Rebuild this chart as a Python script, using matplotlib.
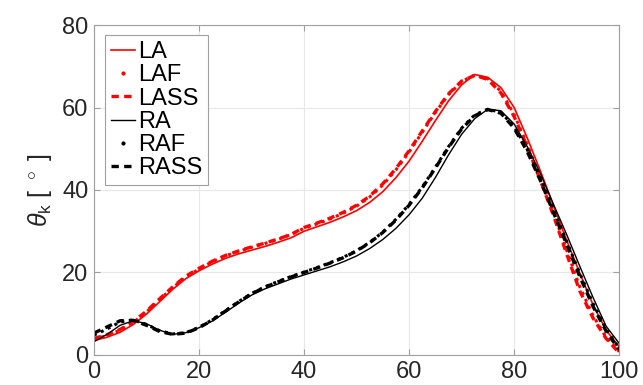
import numpy as np
import matplotlib
matplotlib.use("Agg")
import matplotlib.pyplot as plt
from matplotlib.lines import Line2D

plt.rcParams['font.family'] = ['Liberation Sans', 'DejaVu Sans']
plt.rcParams['mathtext.fontset'] = 'custom'
plt.rcParams['mathtext.rm'] = 'Liberation Sans'
plt.rcParams['mathtext.it'] = 'Liberation Sans:italic'

# gait cycle [%]
x = np.arange(0, 100.1, 2.5)

LA = [3.5, 4.3, 5.5, 7.4, 9.9, 12.9, 15.9, 18.5, 20.4, 22.0, 23.4, 24.5, 25.4, 26.3,
      27.3, 28.4, 30.0, 31.1, 32.2, 33.5, 35.0, 37.0, 39.6, 43.0, 47.0, 51.8, 56.8, 61.6,
      65.5, 68.0, 67.3, 64.8, 60.0, 52.6, 44.6, 36.2, 27.8, 19.8, 12.2, 6.0, 2.0]
LAF = [3.8, 4.7, 6.0, 7.9, 10.4, 13.4, 16.3, 18.9, 20.8, 22.6, 24.0, 25.1, 26.1, 27.0,
       28.0, 29.2, 30.7, 31.8, 33.0, 34.4, 36.1, 38.3, 41.2, 44.9, 49.2, 54.0, 58.8, 63.1,
       66.3, 67.9, 67.0, 63.9, 58.3, 51.0, 42.9, 34.5, 25.4, 16.5, 9.6, 4.3, 0.8]
LASS = [4.0, 4.9, 6.2, 8.1, 10.6, 13.6, 16.5, 19.1, 21.0, 22.7, 24.1, 25.2, 26.2, 27.1,
        28.1, 29.2, 30.9, 32.0, 33.2, 34.6, 36.3, 38.5, 41.5, 45.2, 49.5, 54.3, 59.0, 63.3,
        66.4, 67.8, 66.8, 63.5, 57.8, 50.5, 42.3, 33.8, 24.5, 15.5, 9.0, 4.0, 0.5]
RA = [3.2, 5.0, 7.2, 8.3, 7.6, 6.0, 5.0, 5.4, 6.6, 8.2, 10.3, 12.5, 14.5, 16.0,
      17.2, 18.4, 19.4, 20.4, 21.4, 22.6, 24.0, 25.8, 28.0, 30.7, 34.0, 38.0, 43.0, 48.5,
      53.5, 57.3, 59.6, 59.2, 56.0, 50.5, 44.0, 36.5, 29.2, 21.5, 14.0, 7.0, 2.8]
RAF = [4.8, 6.3, 8.0, 8.5, 7.4, 5.9, 5.1, 5.4, 6.7, 8.5, 10.7, 12.9, 14.9, 16.5,
       17.8, 19.0, 20.1, 21.2, 22.4, 23.7, 25.3, 27.3, 29.8, 32.9, 36.5, 40.7, 45.5, 50.5,
       55.0, 58.2, 59.6, 58.8, 55.4, 49.8, 42.9, 35.2, 27.5, 19.8, 12.5, 6.3, 1.6]
RASS = [5.3, 6.8, 8.3, 8.4, 7.2, 5.7, 5.0, 5.3, 6.6, 8.4, 10.6, 12.8, 14.8, 16.4,
        17.7, 18.9, 20.0, 21.1, 22.3, 23.6, 25.2, 27.2, 29.7, 32.7, 36.3, 40.5, 45.3, 50.3,
        54.8, 58.0, 59.5, 58.6, 55.0, 49.3, 42.3, 34.5, 26.8, 19.0, 11.8, 5.8, 1.2]

labels = ['LA', 'LAF', 'LASS', 'RA', 'RAF', 'RASS']

fig = plt.figure(figsize=(6.43, 3.85), dpi=100)
ax = fig.add_axes([0.146, 0.078, 0.817, 0.857])

ax.plot(x, LA, color='red', lw=1.2)
ax.plot(x, LAF, color='red', lw=2.2, linestyle=(0, (1, 1.5)))
ax.plot(x, LASS, color='red', lw=2.4, linestyle=(0, (2.2, 1.6)))
ax.plot(x, RA, color='black', lw=1.0)
ax.plot(x, RAF, color='black', lw=2.2, linestyle=(0, (1, 1.5)))
ax.plot(x, RASS, color='black', lw=2.4, linestyle=(0, (2.2, 1.6)))

# legend proxies (the F series show as a single dot, like the original)
handles = [
    Line2D([], [], color='red', lw=1.2),
    Line2D([], [], color='red', ls='none', marker='.', markersize=4),
    Line2D([], [], color='red', lw=2.4, linestyle=(0, (2.2, 1.6))),
    Line2D([], [], color='black', lw=1.0),
    Line2D([], [], color='black', ls='none', marker='.', markersize=4),
    Line2D([], [], color='black', lw=2.4, linestyle=(0, (2.2, 1.6))),
]
leg = ax.legend(handles, labels, loc='upper left', bbox_to_anchor=(0.008, 0.99),
                fontsize=17, handlelength=1.0, handletextpad=0.15, labelspacing=0.05,
                borderpad=0.25, fancybox=False, framealpha=1, borderaxespad=0.3)
leg.get_frame().set_edgecolor('#a0a0a0')
leg.get_frame().set_linewidth(0.8)

ax.set_xlim(0, 100)
ax.set_ylim(0, 80)
ax.set_xticks(np.arange(0, 101, 20))
ax.set_yticks(np.arange(0, 81, 20))
ax.grid(True, color='#e8e8e8', lw=0.8)
ax.set_axisbelow(True)
ax.tick_params(direction='in', length=4, labelsize=17, colors='#a0a0a0',
               labelcolor='#262626', top=True, right=True, pad=4)
for s in ax.spines.values():
    s.set_color('#a0a0a0')
    s.set_linewidth(0.8)

ax.set_ylabel(r'$\theta_{\rm k}$ [ $^\circ$ ]', fontsize=18, color='#262626', labelpad=6)

fig.savefig('out.png', dpi=100)
